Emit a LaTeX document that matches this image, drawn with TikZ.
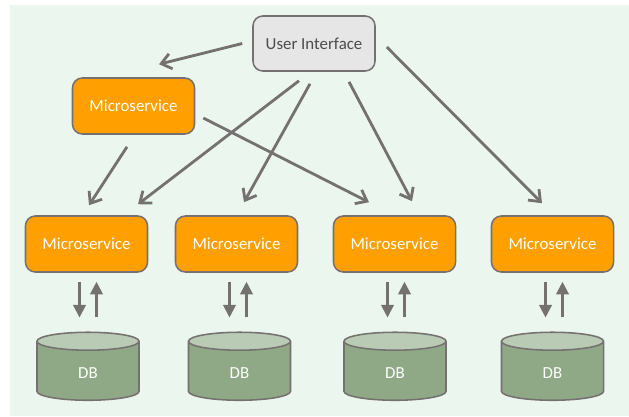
\documentclass[tikz,border=0pt]{standalone}
\usepackage{fontspec}
\setmainfont{Carlito}
\usetikzlibrary{arrows.meta, positioning, shapes.geometric}

\definecolor{panel}{HTML}{EBF7EE}
\definecolor{msorange}{HTML}{FFA000}
\definecolor{edgegray}{HTML}{767171}
\definecolor{uigray}{HTML}{E6E6E6}
\definecolor{dbgreen}{HTML}{8FA886}
\definecolor{dbtop}{HTML}{B9CBB5}

\begin{document}
\begin{tikzpicture}[
  x=0.025cm, y=-0.025cm,
  msbox/.style={rectangle, draw=edgegray, line width=1.1pt, rounded corners=7pt,
    fill=msorange, text=white, minimum width=3.05cm, minimum height=1.4cm,
    font=\fontsize{12}{14}\selectfont},
  uibox/.style={msbox, fill=uigray, text=black!70, minimum height=1.375cm},
  dbcyl/.style={cylinder, shape border rotate=90, aspect=0.62, draw=edgegray,
    line width=1.1pt, cylinder uses custom fill, cylinder body fill=dbgreen,
    cylinder end fill=dbtop, text=white, minimum width=2.55cm, minimum height=1.7cm,
    font=\fontsize{12}{14}\selectfont},
  flow/.style={draw=edgegray, line width=2pt, -{Straight Barb[length=7pt, width=11pt]}},
  link/.style={draw=edgegray, line width=1.5pt, -{Triangle[length=9pt, width=9pt]}}
]
  \useasboundingbox (0,0) rectangle (629,416);
  \fill[panel] (10,5) rectangle (629,416);

  \node[uibox] (ui) at (314,43.5) {User Interface};
  \node[msbox] (mstop) at (133.5,106) {Microservice};

  % bottom row: services and their own databases
  \foreach \i/\m/\d in {1/86.5/88, 2/236.5/239.5, 3/394.5/395, 4/552.5/552.5} {
    \node[msbox] (ms\i) at (\m,244) {Microservice};
    \node[dbcyl] (db\i) at (\d,373) {DB};
    \draw[link] ([shift={(-7,9)}]ms\i.south) -- ([shift={(-7,-14)}]ms\i.south |- db\i.north);
    \draw[link] ([shift={(10,-14)}]ms\i.south |- db\i.north) -- ([shift={(10,9)}]ms\i.south);
  }

  \draw[flow] ([shift={(-10,0)}]ui.west) -- ([shift={(25.5,-13)}]mstop.north);
  \draw[flow] ([shift={(-6.5,12)}]mstop.south) -- ([shift={(2.5,-10)}]ms1.north);
  \draw[flow] ([shift={(-15,9)}]ui.south) -- ([shift={(51.5,-11)}]ms1.north);
  \draw[flow] ([shift={(-4,12)}]ui.south) -- ([shift={(7.5,-13)}]ms2.north);
  \draw[flow] ([shift={(8,12)}]mstop.east) -- ([shift={(-25.5,-13)}]ms3.north);
  \draw[flow] ([shift={(35,10)}]ui.south) -- ([shift={(17.5,-14)}]ms3.north);
  \draw[flow] ([shift={(11,3.5)}]ui.east) -- ([shift={(-10.5,-12)}]ms4.north);
\end{tikzpicture}
\end{document}
